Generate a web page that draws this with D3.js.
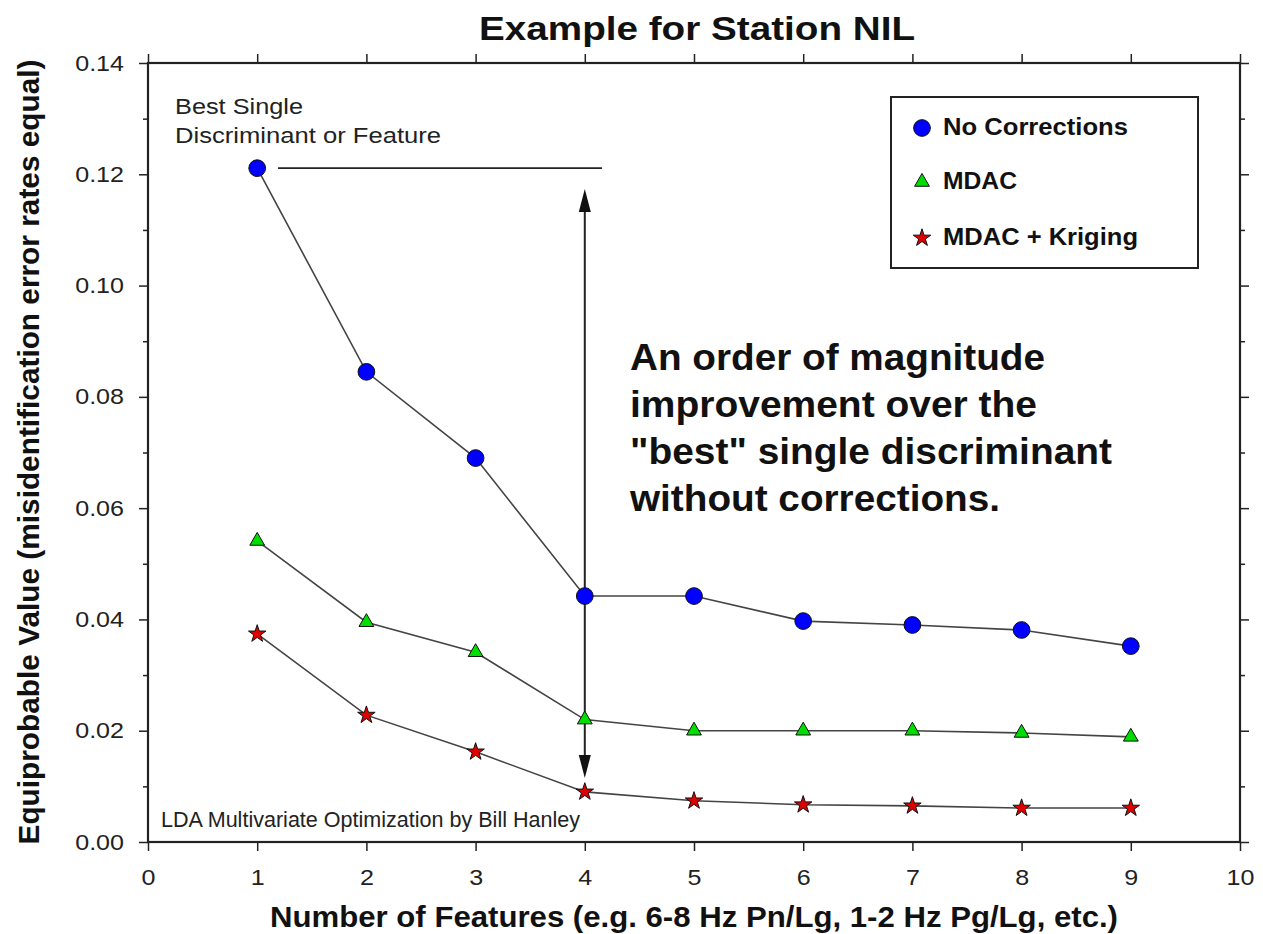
<!DOCTYPE html>
<html><head><meta charset="utf-8">
<script src="https://cdn.jsdelivr.net/npm/d3@7"></script>
<style>body{margin:0;background:#fff}svg{display:block}text{font-family:"Liberation Sans",Arial,sans-serif}</style>
</head><body>
<svg id="c" width="1263" height="934"></svg>
<script>
const features = [1,2,3,4,5,6,7,8,9];
const noCorrections = [0.1211,0.0845,0.0690,0.0442,0.0442,0.0397,0.0390,0.0381,0.0352];
const mdac = [0.0541,0.0395,0.0341,0.0220,0.0200,0.0200,0.0200,0.0196,0.0189];
const mdacKriging = [0.0374,0.0228,0.0162,0.0090,0.0074,0.0067,0.0065,0.0061,0.0061];
const xTicks = [0,1,2,3,4,5,6,7,8,9,10];
const yTicks = [0,0.02,0.04,0.06,0.08,0.10,0.12,0.14];
const yMinor = [0.01,0.03,0.05,0.07,0.09,0.11,0.13];
const seriesNames = ["No Corrections","MDAC","MDAC + Kriging"];
const annotationLines = ["An order of magnitude","improvement over the","\"best\" single discriminant","without corrections."];

const svg = d3.select("#c");
const L=148, R=1240, T=63, B=842;
const x = d3.scaleLinear().domain([0,10]).range([L,R]);
const y = d3.scaleLinear().domain([0,0.14]).range([B,T]);

function stretch(sel, sx){
  sel.each(function(){
    const w = this.getComputedTextLength();
    if (w>0) d3.select(this).attr("textLength", w*sx).attr("lengthAdjust","spacingAndGlyphs");
  });
}
function toWidth(sel, w){ sel.attr("textLength", w).attr("lengthAdjust","spacingAndGlyphs"); }

// title
svg.append("text").attr("x",697).attr("y",40).attr("text-anchor","middle")
  .attr("font-size",33).attr("font-weight","bold").attr("fill","#111").text("Example for Station NIL").call(toWidth,436);

// axes
const fmt = d3.format(".2f");
function styleAxis(g){g.select(".domain").remove();g.selectAll("line").attr("stroke","#222").attr("stroke-width",1.5);g.selectAll("text").attr("font-size",22).attr("fill","#222").attr("font-family","'Liberation Sans',Arial,sans-serif");}
svg.append("g").attr("transform",`translate(${L},0)`).call(d3.axisLeft(y).tickValues(yTicks).tickFormat(fmt).tickSize(9).tickPadding(15)).call(styleAxis)
  .selectAll("text").call(stretch,1.14);
svg.append("g").attr("transform",`translate(${L},0)`).call(d3.axisLeft(y).tickValues(yMinor).tickFormat("").tickSize(5)).call(styleAxis);
svg.append("g").attr("transform",`translate(${R},0)`).call(d3.axisRight(y).tickValues(yTicks).tickFormat("").tickSize(9)).call(styleAxis);
svg.append("g").attr("transform",`translate(${R},0)`).call(d3.axisRight(y).tickValues(yMinor).tickFormat("").tickSize(5)).call(styleAxis);
svg.append("g").attr("transform",`translate(0,${B})`).call(d3.axisBottom(x).tickValues(xTicks).tickFormat(d3.format("d")).tickSize(9).tickPadding(18)).call(styleAxis)
  .selectAll("text").call(stretch,1.14);
svg.append("g").attr("transform",`translate(0,${T})`).call(d3.axisTop(x).tickValues(xTicks).tickFormat("").tickSize(9)).call(styleAxis);
svg.append("rect").attr("x",L).attr("y",T).attr("width",R-L).attr("height",B-T)
  .attr("fill","none").attr("stroke","#222").attr("stroke-width",2.2);

// axis labels
svg.append("text").attr("x",694).attr("y",927).attr("text-anchor","middle")
  .attr("font-size",29).attr("font-weight","bold").attr("fill","#111")
  .text("Number of Features (e.g. 6-8 Hz Pn/Lg, 1-2 Hz Pg/Lg, etc.)").call(toWidth,848);
svg.append("text").attr("transform","translate(39,452) rotate(-90)").attr("text-anchor","middle")
  .attr("font-size",29).attr("font-weight","bold").attr("fill","#111")
  .text("Equiprobable Value (misidentification error rates equal)").call(toWidth,785);

// annotations
svg.append("text").attr("x",175).attr("y",114).attr("font-size",22).attr("fill","#222").text("Best Single").call(toWidth,128);
svg.append("text").attr("x",175).attr("y",143).attr("font-size",22).attr("fill","#222").text("Discriminant or Feature").call(toWidth,266);
svg.append("line").attr("x1",278).attr("x2",602).attr("y1",y(noCorrections[0])).attr("y2",y(noCorrections[0]))
  .attr("stroke","#222").attr("stroke-width",1.8);
const ax = x(4);
svg.append("line").attr("x1",ax).attr("x2",ax).attr("y1",200).attr("y2",768).attr("stroke","#222").attr("stroke-width",2);
svg.append("path").attr("d",`M${ax},189 L${ax-6},212 L${ax+6},212 Z`).attr("fill","#111");
svg.append("path").attr("d",`M${ax},778 L${ax-6},755 L${ax+6},755 Z`).attr("fill","#111");
const annWidths=[415,407,482,370];
annotationLines.forEach((t,i)=>{
  svg.append("text").attr("x",630).attr("y",370+i*47).attr("font-size",36).attr("font-weight","bold").attr("fill","#111")
    .text(t).call(toWidth,annWidths[i]);
});
svg.append("text").attr("x",161).attr("y",827).attr("font-size",21.5).attr("fill","#222").text("LDA Multivariate Optimization by Bill Hanley").call(toWidth,419);

// series
const line = d3.line().x((d,i)=>x(features[i])).y(d=>y(d));
[noCorrections,mdac,mdacKriging].forEach(s=>{
  svg.append("path").attr("d",line(s)).attr("fill","none").attr("stroke","#444").attr("stroke-width",1.6);
});
const circ = d3.symbol().type(d3.symbolCircle).size(220);
const tri = d3.symbol().type(d3.symbolTriangle).size(95);
const star = d3.symbol().type(d3.symbolStar).size(95);
function marks(data,sym,fill){
  svg.append("g").selectAll("path").data(data).join("path")
    .attr("transform",(d,i)=>`translate(${x(features[i])},${y(d)})`)
    .attr("d",sym).attr("fill",fill).attr("stroke","#111").attr("stroke-width",1);
}
marks(noCorrections,circ,"#0000ff");
marks(mdac,tri,"#00dd00");
marks(mdacKriging,star,"#dd0000");

// legend
svg.append("rect").attr("x",891).attr("y",97).attr("width",307).attr("height",171)
  .attr("fill","#fff").attr("stroke","#222").attr("stroke-width",2);
const legSyms=[[circ,"#0000ff"],[tri,"#00dd00"],[star,"#dd0000"]];
const legY=[128,182,238];
const legBase=[135,189,245];
const legW=[185,74,195];
seriesNames.forEach((n,i)=>{
  svg.append("path").attr("transform",`translate(922,${legY[i]})`).attr("d",legSyms[i][0])
    .attr("fill",legSyms[i][1]).attr("stroke","#111").attr("stroke-width",1);
  svg.append("text").attr("x",943).attr("y",legBase[i]).attr("font-size",23).attr("font-weight","bold").attr("fill","#111").text(n).call(toWidth,legW[i]);
});
</script>
</body></html>
